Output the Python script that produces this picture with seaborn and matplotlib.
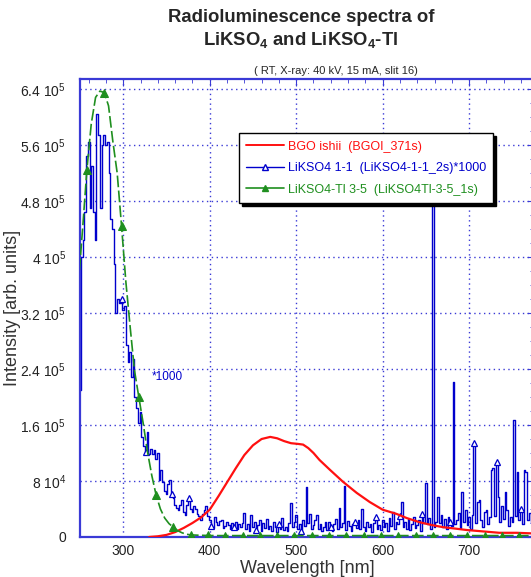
import numpy as np
import pandas as pd
import seaborn as sns
import matplotlib
matplotlib.use("Agg")
import matplotlib.pyplot as plt
from matplotlib.lines import Line2D
from matplotlib.ticker import MultipleLocator, FixedLocator, FixedFormatter

# BGO ishii (red) - wavelength [nm], intensity [x1000]
bgo_wl = [330, 340, 350, 360, 370, 380, 390, 400, 410, 420, 430, 440, 450, 460, 470,
          478, 486, 494, 502, 508, 514, 520, 527, 539, 554, 570, 585, 600, 616, 628,
          643, 657, 670, 684, 697, 716, 735, 755, 776]
bgo_val = [0, 1, 3, 7, 13, 20, 28, 39, 58, 78, 98, 117, 131, 140, 143,
           141, 137, 134, 133, 132, 127, 120, 110, 96, 79, 63, 50, 39, 33, 27,
           21, 17, 14, 12, 10, 8, 6, 6, 5]

# LiKSO4 1-1 (blue, x1000), 2 nm steps starting at 250 nm
liks_start = 250
liks_val = [210, 400, 425, 465, 545, 565, 470, 530, 465, 425, 605, 575, 470, 560, 575,
            560, 565, 520, 455, 440, 390, 320, 340, 335, 340, 325, 330, 275, 250, 265,
            228, 255, 200, 185, 163, 178, 143, 130, 122, 150, 118, 126, 118, 124, 112,
            120, 82, 96, 78, 66, 62, 76, 82, 62, 56, 46, 42, 38, 46, 53,
            36, 32, 46, 56, 40, 36, 45, 40, 33, 30, 24, 33, 38, 45, 30,
            24, 16, 13, 28, 22, 17, 23, 25, 13, 16, 21, 17, 12, 20, 15,
            22, 11, 18, 14, 20, 34, 12, 19, 9, 31, 14, 22, 10, 17, 24,
            8, 20, 13, 26, 11, 16, 9, 21, 14, 7, 18, 12, 27, 10, 15,
            8, 20, 49, 14, 22, 31, 12, 18, 9, 24, 16, 71, 20, 33, 11,
            17, 25, 31, 12, 19, 8, 15, 22, 10, 21, 14, 9, 18, 26, 12,
            41, 15, 20, 73, 10, 23, 16, 8, 19, 21, 13, 25, 11, 40, 15,
            9, 22, 14, 18, 7, 20, 29, 12, 17, 10, 24, 14, 20, 9, 27,
            16, 36, 11, 22, 18, 30, 50, 14, 21, 12, 26, 10, 19, 28, 13,
            17, 24, 9, 33, 20, 77, 18, 27, 12, 500, 15, 22, 57, 20, 32,
            14, 26, 11, 29, 21, 16, 221, 19, 25, 34, 13, 64, 22, 39, 17,
            28, 12, 31, 134, 20, 50, 53, 24, 15, 36, 39, 18, 28, 96, 99,
            30, 107, 57, 21, 44, 26, 64, 38, 16, 29, 22, 167, 30, 93, 25,
            40, 18, 96, 93, 24, 35, 20, 31, 15]
liks_marker_wl = [298, 326, 356, 376, 402, 428, 454, 480, 506, 540, 568, 592,
                  620, 646, 678, 706, 732, 760]

# LiKSO4-Tl 3-5 (green)
tl_wl = [248, 253, 258, 263, 268, 273, 278, 283, 288, 293, 298, 303, 308, 313, 318,
         323, 328, 333, 338, 343, 348, 353, 358, 363, 368, 373, 378, 388, 398, 408,
         418, 428, 438, 448, 458, 468, 478, 488, 498, 508, 518, 528, 538, 548, 558,
         568, 578, 588, 598, 608, 618, 628, 638, 648, 658, 668, 678, 688, 698, 708,
         718, 728, 738, 748, 758, 768, 778]
tl_val = [360, 440, 525, 590, 628, 637, 635, 616, 565, 520, 445, 365, 300, 238, 200,
          163, 122, 88, 60, 40, 27, 19, 14, 9, 6, 4, 3, 2.5, 2.2, 2,
          2, 2, 2, 2, 2, 2, 2, 2, 2, 2, 2, 2, 2, 2, 2,
          2, 2, 2, 2, 2, 2, 2, 2, 2, 2, 2, 2, 2, 2, 2,
          2, 2, 2, 2, 2, 2, 2]
tl_marker_wl = [258, 278, 298, 318, 338, 358, 378, 398, 418, 438, 458, 478, 498, 518,
                538, 558, 578, 598, 618, 638, 658, 678, 698, 718, 738, 758]

y_ticks = [0, 80000, 160000, 240000, 320000, 400000, 480000, 560000, 640000]
y_tick_labels = ["0", "8 $10^4$", "1.6 $10^5$", "2.4 $10^5$", "3.2 $10^5$",
                 "4 $10^5$", "4.8 $10^5$", "5.6 $10^5$", "6.4 $10^5$"]
x_ticks = [300, 400, 500, 600, 700]

labels = ["BGO ishii  (BGOI_371s)",
          "LiKSO4 1-1  (LiKSO4-1-1_2s)*1000",
          "LiKSO4-Tl 3-5  (LiKSO4Tl-3-5_1s)"]

sns.set_style("white")
plt.rcParams['font.family'] = ['Liberation Sans', 'DejaVu Sans']
plt.rcParams['mathtext.fontset'] = 'custom'
plt.rcParams['mathtext.rm'] = 'Liberation Sans'
plt.rcParams['mathtext.bf'] = 'Liberation Sans:bold'
plt.rcParams['mathtext.default'] = 'regular'

df_bgo = pd.DataFrame({"wl": bgo_wl, "I": np.array(bgo_val) * 1000.0})
df_liks = pd.DataFrame({"wl": liks_start + 2 * np.arange(len(liks_val)),
                        "I": np.array(liks_val) * 1000.0})
df_tl = pd.DataFrame({"wl": tl_wl, "I": np.array(tl_val) * 1000.0})

liks_idx = [int(np.where(df_liks["wl"] == w)[0][0]) for w in liks_marker_wl]
tl_idx = [tl_wl.index(w) for w in tl_marker_wl]

blue = "#0000cc"
green = "#1f8f1f"
red = "#ff1010"
frame = "#3a3ad6"

fig = plt.figure(figsize=(5.31, 5.77), dpi=100)
ax = fig.add_axes([80 / 531, 40 / 577, 454 / 531, 458 / 577])

sns.lineplot(data=df_liks, x="wl", y="I", ax=ax, color=blue, lw=1.0,
             drawstyle="steps-mid", estimator=None, marker="^", markevery=liks_idx,
             markersize=5, markerfacecolor="white", markeredgecolor=blue,
             markeredgewidth=0.9, legend=False)
sns.lineplot(data=df_tl, x="wl", y="I", ax=ax, color=green, lw=1.2,
             linestyle=(0, (7, 2)), estimator=None, marker="^", markevery=tl_idx,
             markersize=6, markerfacecolor=green, markeredgecolor=green,
             legend=False, zorder=4)
sns.lineplot(data=df_bgo, x="wl", y="I", ax=ax, color=red, lw=1.6,
             estimator=None, legend=False, zorder=3)

ax.set_xlim(250, 775)
ax.set_ylim(0, 640000 * 458 / 448)

ax.xaxis.set_major_locator(FixedLocator(x_ticks))
ax.xaxis.set_minor_locator(MultipleLocator(20))
ax.yaxis.set_major_locator(FixedLocator(y_ticks))
ax.yaxis.set_major_formatter(FixedFormatter(y_tick_labels))
ax.yaxis.set_minor_locator(MultipleLocator(20000))

ax.tick_params(which="both", direction="in", top=True, right=True, color=frame,
               labelcolor="#222222", labelsize=10)
ax.tick_params(axis="y", which="major", length=5, pad=10)
ax.tick_params(axis="x", which="major", length=5, pad=5)
ax.tick_params(which="minor", length=3)

ax.grid(True, which="major", color=frame, linestyle=(0, (1, 2.5)), lw=1.0)
for sp in ax.spines.values():
    sp.set_color(frame)
    sp.set_linewidth(1.6)

ax.set_xlabel("Wavelength [nm]", fontsize=13, color="#333333")
ax.set_ylabel("Intensity [arb. units]", fontsize=13, color="#333333")
ax.xaxis.set_label_coords(0.5, -0.05)
ax.yaxis.set_label_coords(-0.13, 0.5)

ax.text(333, 229000, "*1000", color=blue, fontsize=8.5, va="center")

handles = [
    Line2D([], [], color=red, lw=1.4),
    Line2D([], [], color=blue, lw=1.0, marker="^", markersize=5,
           markerfacecolor="white", markeredgecolor=blue),
    Line2D([], [], color=green, lw=1.2, marker="^", markersize=5,
           markerfacecolor=green, markeredgecolor=green),
]
leg = ax.legend(handles, labels, loc="upper left",
                bbox_to_anchor=(0.336, 0.895), fontsize=9, frameon=True,
                fancybox=False, shadow={"color": "black", "alpha": 1.0},
                edgecolor="black", framealpha=1.0, handlelength=3.0,
                handletextpad=0.3, labelspacing=0.75, borderpad=0.6,
                labelcolor="linecolor")
leg.get_frame().set_linewidth(1.0)

fig.text(0.567, 1 - 17 / 577, "Radioluminescence spectra of", ha="center",
         va="center", fontsize=13.3, fontweight="bold")
fig.text(0.567, 1 - 40 / 577, r"LiKSO$_\mathbf{4}$ and LiKSO$_\mathbf{4}$-Tl",
         ha="center", va="center", fontsize=13.3, fontweight="bold")
fig.text(0.632, 1 - 71 / 577, "( RT, X-ray: 40 kV, 15 mA, slit 16)", ha="center",
         va="center", fontsize=8)

fig.savefig("out.png", dpi=100)
